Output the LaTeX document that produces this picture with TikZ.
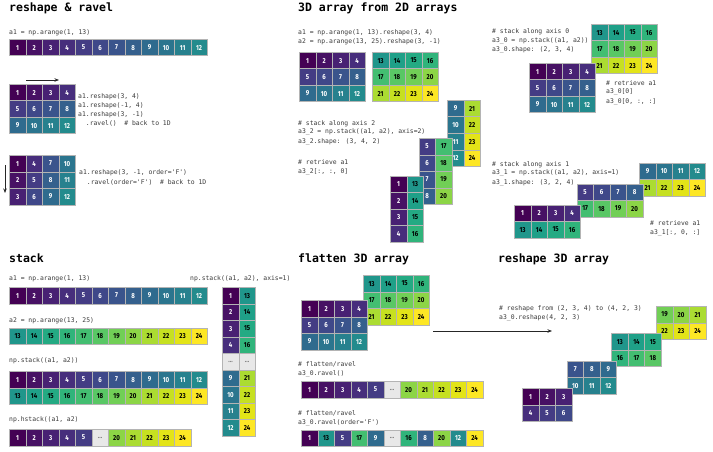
\documentclass[tikz,border=0pt]{standalone}
\usepackage{fontspec}
\usetikzlibrary{arrows.meta}

\newfontfamily\codefont{DejaVu Sans Mono}[Ligatures=TeXOff]
\newfontfamily\titlefont{DejaVu Sans Mono}[Ligatures=TeXOff]
\newfontfamily\cellfont{Fira Sans}[FakeStretch=0.85]

% viridis colours, one per value
\definecolor{vc0}{HTML}{E8E8E8}
\definecolor{vc1}{HTML}{440154}
\definecolor{vc2}{HTML}{471164}
\definecolor{vc3}{HTML}{482173}
\definecolor{vc4}{HTML}{472E7C}
\definecolor{vc5}{HTML}{443C84}
\definecolor{vc6}{HTML}{3F4889}
\definecolor{vc7}{HTML}{3A548C}
\definecolor{vc8}{HTML}{35608D}
\definecolor{vc9}{HTML}{2F6B8E}
\definecolor{vc10}{HTML}{2B758E}
\definecolor{vc11}{HTML}{27818E}
\definecolor{vc12}{HTML}{238B8D}
\definecolor{vc13}{HTML}{20968B}
\definecolor{vc14}{HTML}{1FA088}
\definecolor{vc15}{HTML}{24AA83}
\definecolor{vc16}{HTML}{30B47B}
\definecolor{vc17}{HTML}{43BE71}
\definecolor{vc18}{HTML}{59C765}
\definecolor{vc19}{HTML}{71CF56}
\definecolor{vc20}{HTML}{8CD546}
\definecolor{vc21}{HTML}{ABDC32}
\definecolor{vc22}{HTML}{C6E021}
\definecolor{vc23}{HTML}{E3E418}
\definecolor{vc24}{HTML}{FDE725}
\definecolor{cellline}{HTML}{B4B4B4}
\definecolor{codegray}{HTML}{3A3A3A}

\tikzset{
    cellbox/.style={draw=cellline, line width=0.7pt, anchor=north west, inner sep=0pt,
        minimum width=16.5pt, minimum height=16.5pt,
        font=\cellfont\bfseries\fontsize{7.2}{7.2}\selectfont},
    code/.style={anchor=base west, inner sep=0pt, text=codegray,
        font=\codefont\fontsize{6.4}{6.4}\selectfont},
    heading/.style={anchor=base west, inner sep=0pt,
        font=\titlefont\bfseries\fontsize{11.5}{11.5}\selectfont},
    flow/.style={-{Stealth[length=4.5pt,width=3.5pt]}, line width=0.7pt, black!85},
}

% grid of cells: name, x, y, columns, values (0 = gap)
\newcommand{\cellgrid}[5]{%
    \foreach \val [count=\idx from 0] in {#5} {
        \pgfmathtruncatemacro\cx{mod(\idx,#4)}
        \pgfmathtruncatemacro\cy{\idx/#4}
        \ifnum\val>12 \def\tc{black}\else\def\tc{white}\fi
        \ifnum\val=0 \def\tc{gray}\fi
        \node[cellbox, fill=vc\val, text=\tc] (#1-\idx) at ({#2+\cx*16.5}, {#3+\cy*16.5})
            {\ifnum\val=0 …\else\val\fi};
    }
}

% lines of code: name, x, first baseline, lines
\newcommand{\codelines}[4]{%
    \foreach \cl [count=\k from 0] in {#4} {
        \node[code] (#1-\k) at (#2, {#3+\k*9}) {\cl};
    }
}

\begin{document}
\begin{tikzpicture}[x=1pt, y=-1pt]

    \fill[white] (0,0) rectangle (713,452);
    \useasboundingbox (0,0) rectangle (713,452);

    % reshape & ravel
    \node[heading] (h-reshape) at (9, 11.5) {reshape \& ravel};
    \codelines{c-a1}{9}{34.5}{{a1 = np.arange(1, 13)}}
    \cellgrid{a1row}{9}{39}{12}{1,...,12}

    \coordinate (rowdir-a) at (26, 80);
    \coordinate (rowdir-b) at (59, 80);
    \draw[flow] (rowdir-a) -- (rowdir-b);
    \cellgrid{cgrid}{9}{84}{4}{1,...,12}
    \codelines{c-rs}{78}{98.7}{{a1.reshape(3, 4)},{a1.reshape(-1, 4)},{a1.reshape(3, -1)},{\ \ .ravel()\ \ \# back to 1D}}

    \coordinate (coldir-a) at (5, 165);
    \coordinate (coldir-b) at (5, 193);
    \draw[flow] (coldir-a) -- (coldir-b);
    \cellgrid{fgrid}{9}{155}{4}{1,4,7,10,2,5,8,11,3,6,9,12}
    \codelines{c-rsf}{79}{175}{{a1.reshape(3, -1, order='F')},{\ \ .ravel(order='F')\ \ \# back to 1D}}

    % 3D array from 2D arrays
    \node[heading] (h-3d) at (298, 11.5) {3D array from 2D arrays};
    \codelines{c-2d}{298}{34.3}{{a1 = np.arange(1, 13).reshape(3, 4)},{a2 = np.arange(13, 25).reshape(3, -1)}}
    \cellgrid{m1}{299}{52}{4}{1,...,12}
    \cellgrid{m2}{372}{52}{4}{13,...,24}

    % stack along axis 2
    \codelines{c-ax2}{298}{125}{{\# stack along axis 2},{a3\_2 = np.stack((a1, a2), axis=2)},{a3\_2.shape: (3, 4, 2)}}
    \codelines{c-ax2r}{298}{164.5}{{\# retrieve a1},{a3\_2[:, :, 0]}}
    \cellgrid{ax2c}{447}{100}{2}{9,21,10,22,11,23,12,24}
    \cellgrid{ax2b}{418.5}{138}{2}{5,17,6,18,7,19,8,20}
    \cellgrid{ax2a}{390}{175.5}{2}{1,13,2,14,3,15,4,16}

    % stack along axis 0
    \codelines{c-ax0}{492}{34}{{\# stack along axis 0},{a3\_0 = np.stack((a1, a2))},{a3\_0.shape: (2, 3, 4)}}
    \cellgrid{ax0b}{591}{24}{4}{13,...,24}
    \cellgrid{ax0a}{529}{63}{4}{1,...,12}
    \codelines{c-ax0r}{606}{85}{{\# retrieve a1},{a3\_0[0]},{a3\_0[0, :, :]}}

    % stack along axis 1
    \codelines{c-ax1}{492}{166}{{\# stack along axis 1},{a3\_1 = np.stack((a1, a2), axis=1)},{a3\_1.shape: (3, 2, 4)}}
    \cellgrid{ax1c}{639}{162.5}{4}{9,10,11,12,21,22,23,24}
    \cellgrid{ax1b}{576.5}{183.5}{4}{5,6,7,8,17,18,19,20}
    \cellgrid{ax1a}{514}{204.5}{4}{1,2,3,4,13,14,15,16}
    \codelines{c-ax1r}{650}{225.5}{{\# retrieve a1},{a3\_1[:, 0, :]}}

    % stack
    \node[heading] (h-stack) at (9, 262.5) {stack};
    \codelines{c-s1}{9}{280.5}{{a1 = np.arange(1, 13)}}
    \cellgrid{s1}{9}{287}{12}{1,...,12}
    \codelines{c-s2}{9}{322.5}{{a2 = np.arange(13, 25)}}
    \cellgrid{s2}{9}{327.5}{12}{13,...,24}
    \codelines{c-sv}{190}{280.5}{{np.stack((a1, a2), axis=1)}}
    \cellgrid{sv}{222}{287}{2}{1,13,2,14,3,15,4,16,0,0,9,21,10,22,11,23,12,24}
    \codelines{c-sh}{9}{362.7}{{np.stack((a1, a2))}}
    \cellgrid{sh}{9}{371}{12}{1,...,24}
    \codelines{c-hs}{9}{421.7}{{np.hstack((a1, a2)}}
    \cellgrid{hs}{9}{429}{11}{1,2,3,4,5,0,20,21,22,23,24}

    % flatten 3D array
    \node[heading] (h-flat) at (298, 262.5) {flatten 3D array};
    \cellgrid{fl2}{363}{275}{4}{13,...,24}
    \cellgrid{fl1}{301}{300}{4}{1,...,12}
    \codelines{c-rc}{298}{366}{{\# flatten/ravel},{a3\_0.ravel()}}
    \cellgrid{rc}{301}{381}{11}{1,2,3,4,5,0,20,21,22,23,24}
    \codelines{c-rf}{298}{415}{{\# flatten/ravel},{a3\_0.ravel(order='F')}}
    \cellgrid{rf}{301}{429.5}{11}{1,13,5,17,9,0,16,8,20,12,24}

    \coordinate (go-a) at (433, 331);
    \coordinate (go-b) at (552, 331);
    \draw[flow] (go-a) -- (go-b);

    % reshape 3D array
    \node[heading] (h-rs3) at (498, 262.5) {reshape 3D array};
    \codelines{c-rs3}{499}{310.7}{{\# reshape from (2, 3, 4) to (4, 2, 3)},{a3\_0.reshape(4, 2, 3)}}
    \cellgrid{l3}{656}{306}{3}{19,...,24}
    \cellgrid{l2}{611.3}{333.3}{3}{13,...,18}
    \cellgrid{l1}{566.7}{360.7}{3}{7,...,12}
    \cellgrid{l0}{522}{388}{3}{1,...,6}

\end{tikzpicture}
\end{document}
